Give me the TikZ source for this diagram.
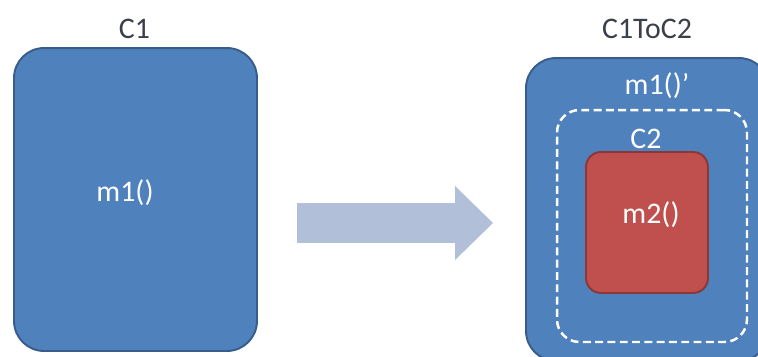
\documentclass[tikz,border=0pt]{standalone}
\usepackage{fontspec}
\setmainfont{Carlito}
\usetikzlibrary{arrows.meta}
\definecolor{ClsBlue}{HTML}{4F81BD}
\definecolor{ClsLine}{HTML}{385D8A}
\definecolor{MthRed}{HTML}{C0504D}
\definecolor{MthLine}{HTML}{8C3836}
\definecolor{FlowGrey}{HTML}{B1BFD9}
\definecolor{LabelInk}{HTML}{3A3F4A}

\begin{document}
\begin{tikzpicture}[x=0.02cm,y=-0.02cm,font=\fontsize{17}{20}\selectfont,
    classbox/.style={draw=ClsLine,fill=ClsBlue,line width=1.1pt,
      rounded corners=0.6cm,inner sep=0pt,
      minimum width=4.86cm,minimum height=6.06cm},
    wrapbox/.style={draw=white,dash pattern=on 4.5pt off 2.5pt,
      line width=1.4pt,rounded corners=0.45cm,inner sep=0pt,
      minimum width=3.8cm,minimum height=4.64cm},
    methbox/.style={draw=MthLine,fill=MthRed,line width=1.1pt,
      rounded corners=0.3cm,inner sep=0pt,
      minimum width=2.44cm,minimum height=2.82cm},
    title/.style={anchor=base,text=LabelInk,inner sep=0pt},
    inner/.style={anchor=base,text=white,inner sep=0pt},
    flow/.style={draw=FlowGrey,line width=0.8cm,
      -{Triangle[length=0.76cm,width=1.48cm,line width=0pt]}}]
    \useasboundingbox (0,0) rectangle (758,356);
    % source class
    \node[classbox] (c1) at (135.5,199.5) {};
    \node[title] (c1name) at (134.5,38) {C1};
    \node[inner] (m1) at (125,201) {m1()};
    % transformation
    \coordinate (from) at (297,223);
    \coordinate (to) at (493,223);
    \draw[flow] (from) -- (to);
    % resulting class
    \node[classbox] (c1toc2) at (647.5,209.5) {};
    \node[title] (c1toc2name) at (647,38) {C1ToC2};
    \node[inner] (m1p) at (657,94) {m1()’};
    \node[wrapbox] (c2) at (652,226) {};
    \node[inner] (c2name) at (646,148) {C2};
    \node[methbox] (m2box) at (647,222.5) {};
    \node[inner] (m2) at (651,223) {m2()};
\end{tikzpicture}
\end{document}
